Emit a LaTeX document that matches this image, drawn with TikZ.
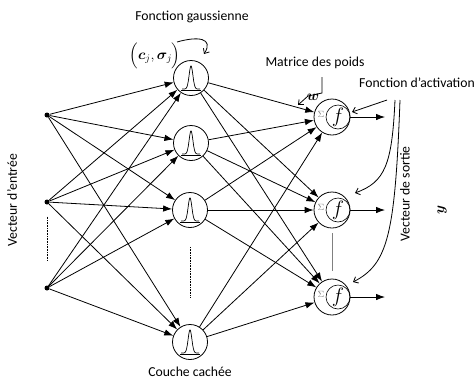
\documentclass[tikz,border=0pt]{standalone}
\usepackage{fontspec}
\setmainfont{Carlito}
\usepackage{amsmath,bm}
\usepackage{tikz}
\usetikzlibrary{arrows.meta}
\tikzset{
  inpoint/.style={circle, fill=black, inner sep=0pt, minimum size=5pt},
  rbfunit/.style={circle, draw, line width=0.8pt, minimum size=35pt, inner sep=0pt},
  sumunit/.style={circle, draw, line width=0.8pt, minimum size=36pt, inner sep=0pt},
  actunit/.style={circle, draw, line width=0.6pt, minimum size=24pt, inner sep=0pt,
    font=\fontsize{22}{22}\selectfont},
  sigmark/.style={inner sep=0pt, text=gray, font=\fontsize{9}{9}\selectfont},
  synapse/.style={-{Latex[length=9pt,width=6.5pt]}, line width=0.8pt},
  notearrow/.style={-{Straight Barb[length=4pt,width=7pt]}, line width=0.8pt},
  lbl/.style={inner sep=1pt, font=\fontsize{13.7}{16}\selectfont},
  gap/.style={line width=0.6pt, densely dotted},
}
\tikzset{bell/.pic={
  \draw[line width=0.7pt, domain=-9:9, samples=60, smooth] plot (\x, {11-23*exp(-\x*\x/7)});
  \draw[line width=0.7pt] (-10,12) -- (10,12);
}}

\begin{document}
\begin{tikzpicture}[x=1pt, y=-1pt]
  \useasboundingbox (0,0) rectangle (476,381);
  % input vector
  \node[inpoint] (in1) at (47,115) {};
  \node[inpoint] (in2) at (47,202) {};
  \node[inpoint] (in3) at (47,288) {};
  % hidden layer
  \node[rbfunit] (hid1) at (191,78) {};
  \node[rbfunit] (hid2) at (191,143) {};
  \node[rbfunit] (hid3) at (190,210) {};
  \node[rbfunit] (hid4) at (190,342) {};
  \foreach \h in {1,...,4} \pic at (hid\h) {bell};
  % output layer
  \node[sumunit] (out1) at (332,117) {};
  \node[sumunit] (out2) at (332,210) {};
  \node[sumunit] (out3) at (332,297) {};
  \foreach \o in {1,2,3} {
    \node[actunit] (act\o) at ([xshift=6pt]out\o.center) {$f$};
    \node[sigmark] (sig\o) at ([xshift=-11pt,yshift=3pt]out\o.center) {$\Sigma$};
  }
  \coordinate (yout1) at (385,117);
  \coordinate (yout2) at (385,210);
  \coordinate (yout3) at (385,297);

  % connections
  \foreach \i in {1,2,3}
    \foreach \h in {1,...,4}
      \draw[synapse] (in\i) -- (hid\h);
  \foreach \h in {1,...,4}
    \foreach \o in {1,2,3}
      \draw[synapse] (hid\h) -- (out\o);
  \foreach \o in {1,2,3}
    \draw[synapse] (out\o) -- (yout\o);

  % gaps
  \draw[gap, shorten <=12pt, shorten >=24pt] (in2) -- (in3);
  \draw[gap, shorten <=19pt, shorten >=27pt] (hid3) -- (hid4);
  \draw[line width=0.6pt, gray, shorten <=5pt, shorten >=8pt] (out2) -- (out3);

  % labels
  \node[lbl] (gausslbl) at (192,17) {Fonction gaussienne};
  \node[inner sep=0pt, font=\fontsize{14.5}{14.5}\selectfont] (centre) at (155,56)
    {$\Bigl(\bm{c}_{j},\bm{\sigma}_{j}\Bigr)$};
  \coordinate (gaussTail) at (177,42);
  \coordinate (gaussTip) at (204,54);
  \draw[notearrow] (gaussTail) .. controls (198,36) and (214,38) .. (gaussTip);

  \node[lbl] (poidslbl) at (315,63) {Matrice des poids};
  \node[inner sep=0pt, font=\fontsize{14}{14}\selectfont] (wlbl) at (313,97) {$\bm{w}$};
  \coordinate (poidsTop) at (322,77);
  \coordinate (poidsTip) at (298,105);
  \draw[notearrow] (poidsTop) -- (322,93) -- (308,96) -- (poidsTip);

  \node[lbl] (actlbl) at (417,83) {Fonction d’activation};
  \coordinate (actA) at (387,100);
  \coordinate (actB) at (395,100);
  \coordinate (actC) at (400,100);
  \coordinate (actTip1) at (352,112);
  \coordinate (actTip2) at (355,193);
  \coordinate (actTip3) at (353,282);
  \draw[notearrow] (actA) -- (actTip1);
  \draw[notearrow] (actB) .. controls (392,165) and (385,182) .. (actTip2);
  \draw[notearrow] (actC) .. controls (395,235) and (388,264) .. (actTip3);

  \node[lbl, rotate=90] (inlbl) at (12,200) {Vecteur d’entrée};
  \node[lbl, rotate=90] (outlbl) at (405,194) {Vecteur de sortie};
  \node[inner sep=0pt, rotate=90, font=\fontsize{15}{15}\selectfont] (ylbl) at (442,210) {$\bm{y}$};
  \node[lbl] (hidlbl) at (190,372) {Couche cachée};
\end{tikzpicture}
\end{document}
